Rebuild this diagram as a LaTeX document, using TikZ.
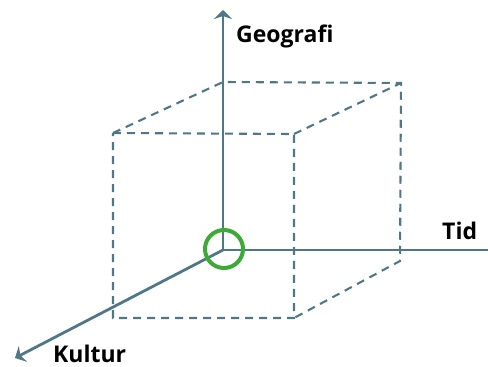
\documentclass[tikz,border=0pt]{standalone}
\usepackage{fontspec}
\setmainfont{Open Sans}
\usetikzlibrary{arrows.meta}
\definecolor{axiscol}{HTML}{4F7886}
\definecolor{ringcol}{HTML}{3DAA35}
\tikzset{
  axisline/.style={draw=axiscol, line width=2.8pt},
  cubeedge/.style={draw=axiscol, line width=2.1pt, dash pattern=on 8pt off 6pt},
  axlabel/.style={font=\fontsize{23}{26}\selectfont\bfseries, text=black, inner sep=0pt, anchor=base west},
  tip/.style={-{Stealth[length=9pt,width=18pt,inset=3pt]}}
}
\begin{document}
\begin{tikzpicture}[x=1pt,y=-1pt]
\useasboundingbox (0,0) rectangle (488,367);
% cube corners
\coordinate (btl) at (223,82);
\coordinate (btr) at (401,83);
\coordinate (bbr) at (400,261);
\coordinate (ftl) at (113,133);
\coordinate (ftr) at (294,134);
\coordinate (fbl) at (113,318);
\coordinate (fbr) at (294,318);
% axes ends
\coordinate (o) at (223,250);
\coordinate (up) at (223,10);
\coordinate (right) at (488,250);
\coordinate (down) at (15,358);
% dashed cube
\draw[cubeedge] (ftl) -- (ftr) -- (fbr) -- (fbl) -- cycle;
\draw[cubeedge] (ftl) -- (btl) -- (btr) -- (bbr) -- (fbr);
\draw[cubeedge] (ftr) -- (btr);
% axes
\draw[axisline, tip] (o) -- (up);
\draw[axisline] (o) -- (right);
\draw[axisline, tip] (o) -- (down);
% ring
\node[draw=ringcol, line width=4pt, circle, minimum size=38pt, inner sep=0pt] (ring) at (224,249) {};
% labels
\node[axlabel] (geo) at (236,42) {Geografi};
\node[axlabel] (tid) at (442,239) {Tid};
\node[axlabel] (kul) at (53,362) {Kultur};
\end{tikzpicture}
\end{document}
